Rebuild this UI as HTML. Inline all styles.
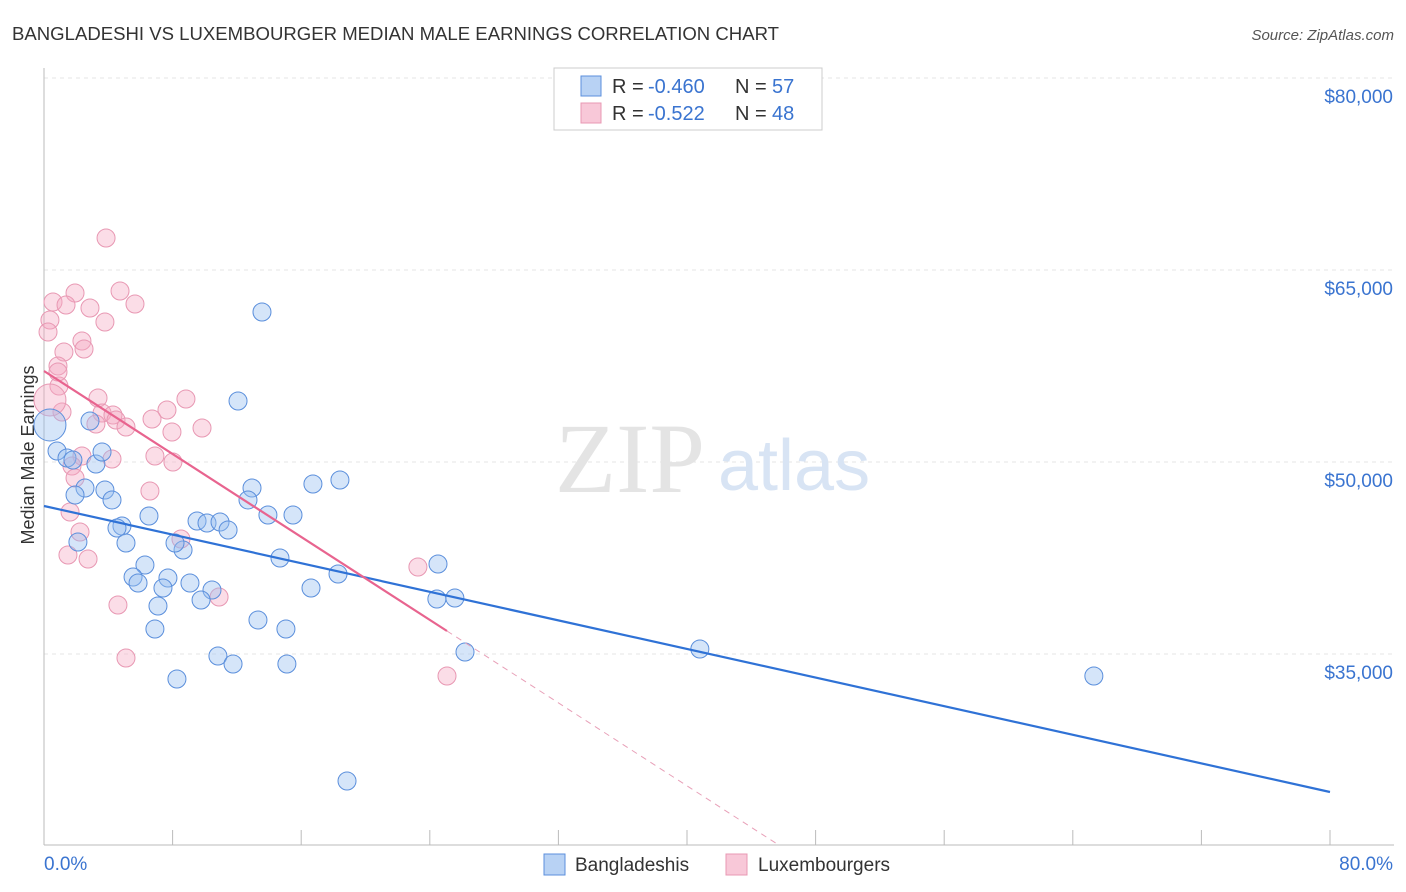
<!DOCTYPE html>
<html><head><meta charset="utf-8"><style>
body{margin:0;background:#fff;font-family:"Liberation Sans",sans-serif;}
#wrap{position:relative;width:1406px;height:892px;overflow:hidden}
</style></head><body><div id="wrap">
<svg id="svg" width="1406" height="892"></svg>
</div>
<script>
const xTicks=[0,8,16,24,32,40,48,56,64,72,80];
const yTicks=[35000,50000,65000,80000];
const yTickLabels=["$35,000","$50,000","$65,000","$80,000"];
const blueX=[13.56,12.07,0.37,0.81,1.43,1.80,3.23,3.61,2.86,2.55,1.93,3.79,4.23,6.53,4.85,4.54,5.10,2.11,6.28,5.54,5.85,7.71,8.65,8.15,9.52,10.14,10.95,11.45,7.09,7.40,9.08,10.45,9.77,6.90,12.94,12.69,13.93,15.49,16.73,18.41,14.68,16.61,18.29,24.51,24.44,25.56,13.31,15.05,10.82,11.76,15.11,8.27,26.19,40.80,65.31,18.85];
const blueY=[61719,54766,52891,50859,50312,50156,49844,50781,53203,47969,47422,47812,47031,45781,45000,44844,43672,43750,41953,41016,40547,40937,43125,43672,45391,45234,45312,44687,38750,40156,40547,40000,39219,36953,47969,47031,45859,45859,48281,48594,42500,40156,41250,42031,39297,39375,37656,36953,34844,34219,34219,33047,35156,35391,33281,25078];
const pinkX=[3.86,0.56,1.93,1.37,4.73,5.66,2.86,3.79,0.37,0.25,1.24,2.36,2.49,0.87,0.93,0.87,1.12,0.37,3.36,8.83,7.65,3.61,4.29,4.48,5.10,3.23,6.72,7.96,9.83,6.90,8.02,2.36,4.23,1.74,1.93,6.59,1.62,2.24,1.49,2.74,8.52,4.60,10.89,23.26,5.10,25.07];
const pinkY=[67500,62500,63203,62266,63359,62344,62031,60937,61094,60156,58594,59453,58828,57500,55937,57031,53906,54844,55000,54922,54062,53828,53672,53281,52734,52969,53359,52344,52656,50469,50000,50469,50234,49687,48750,47734,46094,44531,42734,42422,43984,38828,39453,41797,34687,33281];
const blueTrend=[46563,24219];
const pinkTrend=[57109,36797];
const NS="http://www.w3.org/2000/svg",svg=document.getElementById('svg');
const X=v=>44+v/80*1286, Y=v=>78+(80000-v)*0.0128;
function el(t,a,txt){const e=document.createElementNS(NS,t);for(const k in a)e.setAttribute(k,a[k]);if(txt!==undefined)e.textContent=txt;svg.appendChild(e);return e;}
let e=el('text',{x:12,y:40,'font-size':18,fill:'#333',textLength:767,lengthAdjust:'spacingAndGlyphs'},'BANGLADESHI VS LUXEMBOURGER MEDIAN MALE EARNINGS CORRELATION CHART');

e=el('text',{x:1394,y:40,'font-size':15,fill:'#555','font-style':'italic','text-anchor':'end'},'Source: ZipAtlas.com');

yTicks.forEach((v,i)=>{let g=el('line',{x1:44,x2:1394,y1:Y(v),y2:Y(v),stroke:'#e6e6e6','stroke-dasharray':'4,4'});

let t=el('text',{x:1393,y:Y(v)+25,'font-size':19,fill:'#3a74d0','text-anchor':'end'},yTickLabels[i]);
});
e=el('line',{x1:44,x2:44,y1:68,y2:845,stroke:'#bbb'});
e=el('line',{x1:44,x2:1394,y1:845,y2:845,stroke:'#bbb'});
xTicks.forEach(v=>{let t=el('line',{x1:X(v),x2:X(v),y1:830,y2:845,stroke:'#bbb'});});
e=el('text',{x:44,y:870,'font-size':19,fill:'#3a74d0'},'0.0%');
e=el('text',{x:1393,y:870,'font-size':19,fill:'#3a74d0','text-anchor':'end'},'80.0%');
e=el('text',{x:34,y:455,'font-size':18,fill:'#333','text-anchor':'middle',transform:'rotate(-90 34 455)'},'Median Male Earnings');

e=el('text',{x:555,y:492,'font-size':100,fill:'#e4e4e4','font-family':'Liberation Serif, serif'},'ZIP');
e=el('text',{x:718,y:490,'font-size':72,fill:'#d8e4f4'},'atlas');
function pts(xs,ys,fill,stroke,name){xs.forEach((x,i)=>{const big=x<0.5&&(Math.abs(ys[i]-52891)<10||Math.abs(ys[i]-54844)<10);
let c=el('circle',{cx:X(x),cy:Y(ys[i]),r:big?16:9,fill:fill,stroke:stroke,'stroke-width':1});
});}
pts(pinkX,pinkY,'rgba(245,170,195,0.4)','#e898b3','luxembourger-point');
pts(blueX,blueY,'rgba(150,190,240,0.4)','#5b8fdc','bangladeshi-point');
e=el('line',{x1:X(0),y1:Y(blueTrend[0]),x2:X(80),y2:Y(blueTrend[1]),stroke:'#2f72d6','stroke-width':2.2});

const ps=(pinkTrend[1]-pinkTrend[0])/25.07;
e=el('line',{x1:X(0),y1:Y(pinkTrend[0]),x2:X(25.07),y2:Y(pinkTrend[1]),stroke:'#e8648f','stroke-width':2.2});

const xEnd=(20078-pinkTrend[0])/ps;
e=el('line',{x1:X(25.07),y1:Y(pinkTrend[1]),x2:X(xEnd),y2:Y(20078),stroke:'#e8a0b8','stroke-width':1,'stroke-dasharray':'6,5'});

e=el('rect',{x:554,y:68,width:268,height:62,fill:'#fff',stroke:'#ccc'});
e=el('rect',{x:581,y:76,width:20,height:20,fill:'#b8d2f4',stroke:'#5b8fdc'});
e=el('rect',{x:581,y:103,width:20,height:20,fill:'#f8c8d8',stroke:'#e898b3'});
[[93,'-0.460','57'],[120,'-0.522','48']].forEach(r=>{
let t=el('text',{x:612,y:r[0],'font-size':20,fill:'#333'},'R = ');
t=el('text',{x:648,y:r[0],'font-size':20,fill:'#3a74d0'},r[1]);
t=el('text',{x:735,y:r[0],'font-size':20,fill:'#333'},'N = ');
t=el('text',{x:772,y:r[0],'font-size':20,fill:'#3a74d0'},r[2]);});
e=el('rect',{x:544,y:854,width:21,height:21,fill:'#b8d2f4',stroke:'#5b8fdc'});
e=el('text',{x:575,y:871,'font-size':19,fill:'#333'},'Bangladeshis');
e=el('rect',{x:726,y:854,width:21,height:21,fill:'#f8c8d8',stroke:'#e898b3'});
e=el('text',{x:758,y:871,'font-size':19,fill:'#333'},'Luxembourgers');
</script></body></html>
